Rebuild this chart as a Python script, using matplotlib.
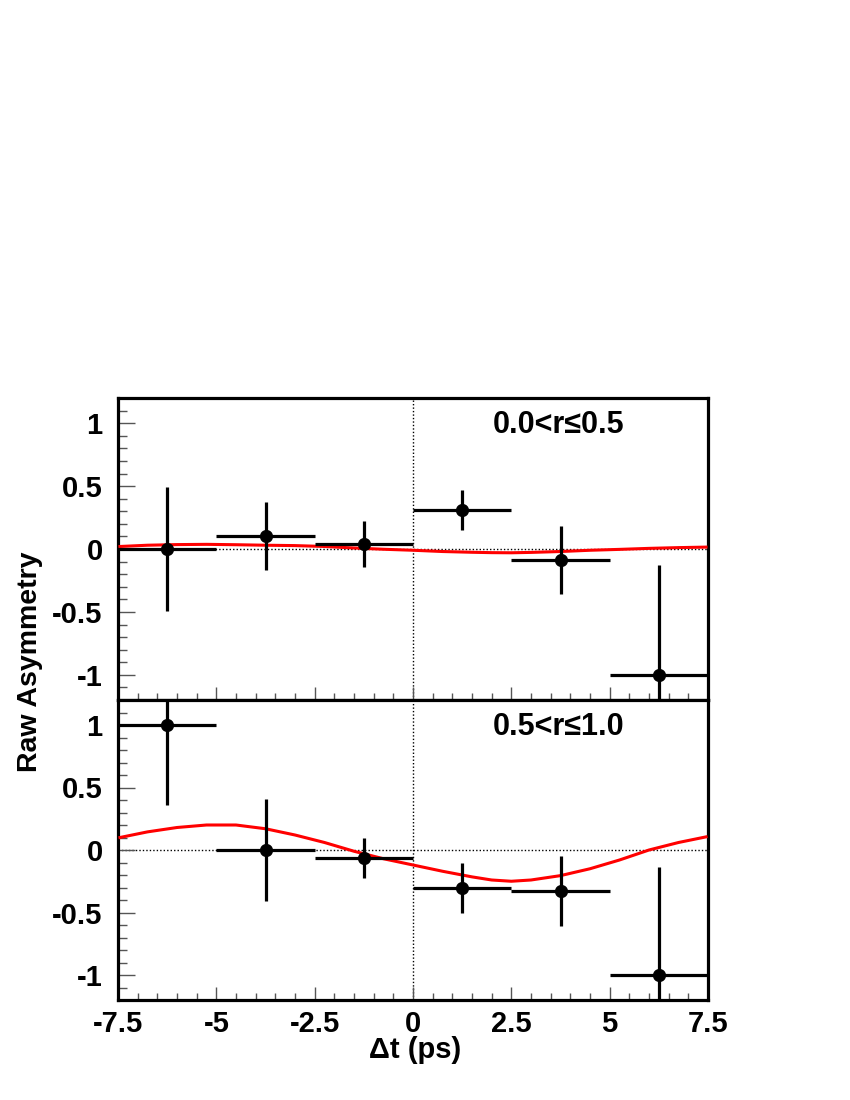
import numpy as np
import matplotlib
matplotlib.use("Agg")
import matplotlib.pyplot as plt
from matplotlib.ticker import MultipleLocator

plt.rcParams['font.family'] = ['Liberation Sans', 'DejaVu Sans']
plt.rcParams['font.weight'] = 'bold'

# bin centres and half widths (ps)
dt_centres = [-6.25, -3.75, -1.25, 1.25, 3.75, 6.25]
dt_halfwidth = [1.25, 1.25, 1.25, 1.25, 1.25, 1.25]

# 0.0 < r <= 0.5
asym_low = [0.0, 0.10, 0.04, 0.31, -0.09, -1.0]
err_low = [0.49, 0.27, 0.18, 0.16, 0.27, 0.87]

# 0.5 < r <= 1.0
asym_high = [1.0, 0.0, -0.06, -0.30, -0.33, -1.0]
err_high = [0.64, 0.41, 0.16, 0.20, 0.28, 0.865]

# fit curves
fit_t = [-7.45, -6.75, -6.0, -5.25, -4.5, -3.75, -3.0, -2.25, -1.5, -0.75, 0.0,
         0.75, 1.5, 2.0, 2.5, 3.0, 3.75, 4.5, 5.25, 6.0, 6.75, 7.45]
fit_low = [0.02, 0.03, 0.035, 0.037, 0.034, 0.03, 0.027, 0.02, 0.008, -0.002, -0.01,
           -0.02, -0.026, -0.029, -0.03, -0.027, -0.02, -0.01, -0.003, 0.005, 0.011, 0.015]
fit_high = [0.10, 0.145, 0.18, 0.20, 0.20, 0.17, 0.12, 0.06, -0.01, -0.07, -0.12,
            -0.17, -0.215, -0.24, -0.25, -0.24, -0.205, -0.15, -0.08, 0.0, 0.06, 0.105]

panels = [
    ("0.0<r\u22640.5", asym_low, err_low, fit_low),
    ("0.5<r\u22641.0", asym_high, err_high, fit_high),
]

W, H = 850, 1100
fig = plt.figure(figsize=(8.5, 11), dpi=100)
left, right = 118 / W, 708 / W
tops = [398, 700]
bots = [700, 1000]
label_y = [425, 727]

for i, (label, asym, err, fit) in enumerate(panels):
    ax = fig.add_axes([left, 1 - bots[i] / H, right - left, (bots[i] - tops[i]) / H])
    ax.set_xlim(-7.5, 7.5)
    ax.set_ylim(-1.2, 1.2)
    ax.axhline(0, color='black', lw=1.0, ls=(0, (1, 1.5)), zorder=1)
    ax.axvline(0, color='black', lw=1.0, ls=(0, (1, 1.5)), zorder=1)
    ax.plot(fit_t, fit, color='red', lw=2.2, zorder=3)
    ax.errorbar(dt_centres, asym, xerr=dt_halfwidth, yerr=err, fmt='o', color='black',
                ms=8.5, elinewidth=2.3, capsize=0, zorder=4)
    fig.text(493 / W, 1 - label_y[i] / H, label, ha='left', va='center',
             fontsize=22, fontweight='bold')

    for s in ax.spines.values():
        s.set_linewidth(2.3)
    ax.xaxis.set_major_locator(MultipleLocator(2.5))
    ax.xaxis.set_minor_locator(MultipleLocator(0.5))
    ax.yaxis.set_minor_locator(MultipleLocator(0.1))
    ax.tick_params(axis='both', which='both', direction='in', top=False, right=False,
                   labelsize=21, color='#555555')
    ax.tick_params(axis='y', which='major', length=12, width=1, pad=11)
    ax.tick_params(axis='y', which='minor', length=6.5, width=1)
    ax.tick_params(axis='x', which='major', length=9.5, width=1, pad=7)
    ax.tick_params(axis='x', which='minor', length=5, width=1)
    ax.set_yticks([-1, -0.5, 0, 0.5, 1])
    ax.set_yticklabels(['-1', '-0.5', '0', '0.5', '1'], fontweight='bold')
    if i == 0:
        ax.tick_params(axis='x', labelbottom=False)
    else:
        ax.set_xticks([-7.5, -5, -2.5, 0, 2.5, 5, 7.5])
        ax.set_xticklabels(['-7.5', '-5', '-2.5', '0', '2.5', '5', '7.5'], fontweight='bold')

fig.text(415 / W, 1 - 1050 / H, "\u0394t (ps)", ha='center', va='center',
         fontsize=21, fontweight='bold')
fig.text(30 / W, 1 - 662 / H, "Raw Asymmetry", ha='center', va='center',
         rotation=90, fontsize=20.5, fontweight='bold')

fig.savefig("out.png", dpi=100)
